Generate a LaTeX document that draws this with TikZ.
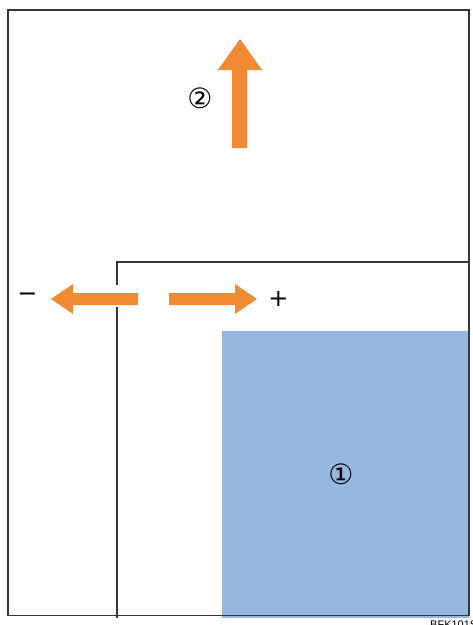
\documentclass[tikz,border=0pt]{standalone}
\usepackage{fontspec}
\setsansfont{Liberation Sans}
\newfontfamily\symfont{DejaVu Sans}
\usetikzlibrary{positioning}
\definecolor{figedge}{RGB}{55,55,55}
\definecolor{figorange}{RGB}{242,137,51}
\definecolor{figblue}{RGB}{150,184,224}

\begin{document}
\begin{tikzpicture}[x=1pt, y=-1pt,
  frame/.style={draw=figedge, line width=1.1pt},
  pusharrow/.style={fill=figorange, draw=none},
  numlabel/.style={font=\symfont\fontsize{28}{28}\selectfont, inner sep=0pt},
  signlabel/.style={font=\symfont\fontsize{24}{24}\selectfont, inner sep=0pt}]
  \useasboundingbox (0,0) rectangle (473,625);
  % paper area
  \fill[figblue] (222,331) rectangle (469,618);
  % tray outline and guide
  \draw[frame] (8,10) rectangle (469,615.5);
  \draw[frame] (117,618) -- (117,307);
  \draw[frame] (117,285) -- (117,262) -- (469,262);
  % push up
  \fill[pusharrow] (240,39) -- (262,70) -- (247,70) -- (247,148)
    -- (232,148) -- (232,70) -- (218,70) -- cycle;
  % slide left and right
  \fill[pusharrow] (51,299) -- (73,284) -- (73,293) -- (138,293)
    -- (138,305) -- (73,305) -- (73,314) -- cycle;
  \fill[pusharrow] (257,299) -- (235,284) -- (235,293) -- (169,293)
    -- (169,305) -- (235,305) -- (235,314) -- cycle;
  \node[signlabel] (minus) at (27.5,297) {−};
  \node[signlabel] (plus) at (278.5,299) {+};
  \node[numlabel] (two) at (200,98) {②};
  \node[numlabel] (one) at (341,474) {①};
  \node[font=\sffamily\fontsize{11}{11}\selectfont, inner sep=0pt,
    anchor=base west] (code) at (430,628) {BFK101S};
\end{tikzpicture}
\end{document}
